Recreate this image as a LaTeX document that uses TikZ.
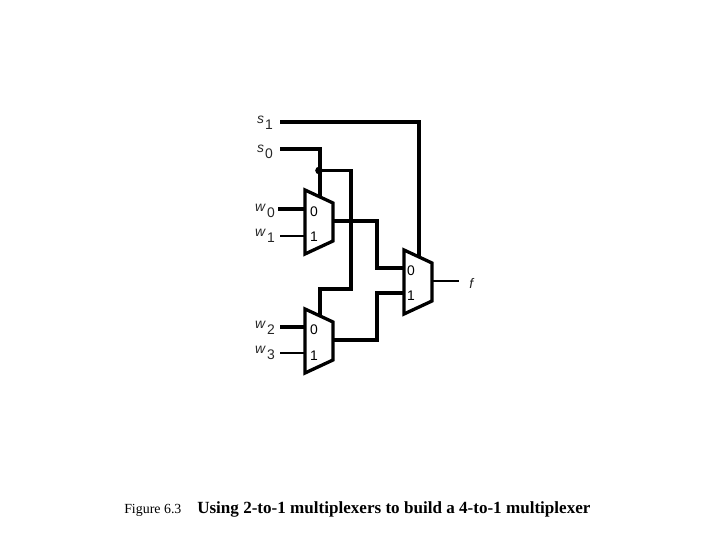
\documentclass[tikz,border=0pt]{standalone}
\usepackage{fontspec}
\setmainfont{Liberation Serif}
\newfontfamily\labelfont{Liberation Sans}
\usetikzlibrary{positioning}
\newcommand{\sigsub}[2]{\textit{#1}\kern1pt\raisebox{-4.5pt}{#2}}
\tikzset{wire/.style={line width=2.4pt,line join=miter},
thinwire/.style={line width=2.1pt},
muxbox/.style={line width=2.6pt,line join=miter,fill=white},
pinlabel/.style={font=\labelfont\fontsize{11}{12}\selectfont,inner sep=0pt},
siglabel/.style={font=\labelfont\fontsize{11}{12}\selectfont,inner sep=0pt,text=black!85}}

\begin{document}
\begin{tikzpicture}[x=0.02778cm,y=-0.02778cm]
\useasboundingbox (0,0) rectangle (720,540);

% the three muxes, left x, top y, inputs at +a and +b
\foreach \name/\x/\y/\a/\b in {m0/305/190/19/46,m1/305/309/18/44,m2/404/250/18/43} {
\coordinate (\name-sel) at (\x+15,\y+7);
\coordinate (\name-in0) at (\x,\y+\a);
\coordinate (\name-in1) at (\x,\y+\b);
\coordinate (\name-out) at (\x+28,\y+31);
\draw[muxbox] (\x,\y) -- (\x+28,\y+13) -- (\x+28,\y+51) -- (\x,\y+64) -- cycle;
}
\node (m0-t0) [pinlabel] at (314,212) {0};
\node (m0-t1) [pinlabel] at (314,237) {1};
\node (m1-t0) [pinlabel] at (314,330) {0};
\node (m1-t1) [pinlabel] at (314,356) {1};
\node (m2-t0) [pinlabel] at (411,271) {0};
\node (m2-t1) [pinlabel] at (411,296) {1};

% signal names
\node (s1) [siglabel] at (265,123) {\sigsub{s}{1}};
\node (s0) [siglabel] at (265,152) {\sigsub{s}{0}};
\node (w0) [siglabel] at (265,211) {\sigsub{w}{0}};
\node (w1) [siglabel] at (265,236) {\sigsub{w}{1}};
\node (w2) [siglabel] at (265,328) {\sigsub{w}{2}};
\node (w3) [siglabel] at (265,353) {\sigsub{w}{3}};
\node (f) [siglabel] at (472,283) {\textit{f}};

\coordinate (s1in) at (280,122);
\coordinate (s0in) at (280,149);
\coordinate (w0in) at (278,209);
\coordinate (w1in) at (280,236);
\coordinate (w2in) at (280,327);
\coordinate (w3in) at (280,353);
\coordinate (fout) at (459,281);
\node (j0) [circle,fill,inner sep=0pt,minimum size=6pt] at (319,170.5) {};

\draw[wire] (s1in) -| (m2-sel);
\draw[wire] (s0in) -| (m0-sel);
\draw[wire] (j0.center) -- (351,170.5) -- (351,289) -- (320,289) -- (m1-sel);
\draw[wire] (w0in) -- (m0-in0);
\draw[thinwire] (w1in) -- (m0-in1);
\draw[wire] (w2in) -- (m1-in0);
\draw[thinwire] (w3in) -- (m1-in1);
\draw[wire] (m0-out) -- (377,221) -- (377,268) -- (m2-in0);
\draw[wire] (m1-out) -- (377,340) -- (377,293) -- (m2-in1);
\draw[thinwire] (m2-out) -- (fout);

% caption
\node (fig) [anchor=base west,inner sep=0pt,font=\fontsize{11}{12}\selectfont] at (124,513) {Figure 6.3};
\node (cap) [anchor=base west,inner sep=0pt,font=\fontsize{13.5}{15}\selectfont\bfseries] at (197,513) {Using 2-to-1 multiplexers to build a 4-to-1 multiplexer};
\end{tikzpicture}
\end{document}
